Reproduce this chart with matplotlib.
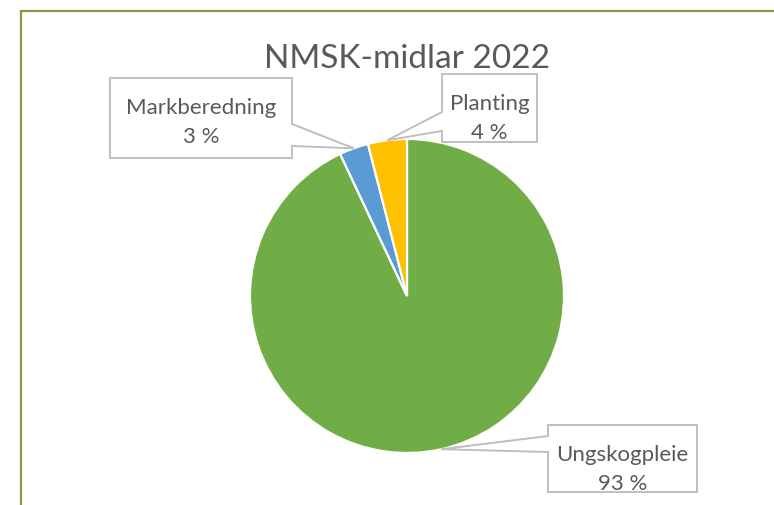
import numpy as np
import matplotlib.pyplot as plt
from matplotlib.patches import Polygon

# ── Data ─────────────────────────────────────────────────────────────
kategoriar = ["Ungskogpleie", "Markberedning", "Planting"]
prosent = [93, 3, 4]
fargar = ["#70AD47", "#5B9BD5", "#FFC000"]
tittel = "NMSK-midlar 2022"

plt.rcParams['font.family'] = ['Lato', 'DejaVu Sans']

W, H = 774, 506
fig = plt.figure(figsize=(W / 100, H / 100), dpi=100)
ax = fig.add_axes([0, 0, 1, 1])

def py(y):
    # pikslar frå toppen -> data-y
    return H - y

# ── Kake ─────────────────────────────────────────────────────────────
cx, cy, r = 407, py(297), 157
wedges, _ = ax.pie(prosent, colors=fargar, startangle=90, counterclock=False,
                   center=(cx, cy), radius=r, frame=True,
                   wedgeprops=dict(edgecolor="white", linewidth=1.6))
ax.set_xlim(0, W)
ax.set_ylim(0, H)
ax.axis("off")

# ── Ramme ────────────────────────────────────────────────────────────
ax.plot([21, 21, W + 5], [py(H + 5), py(12), py(12)], color="#7F9F3F",
        lw=1.6, solid_joinstyle="miter", zorder=1)

ax.text(407, py(68), tittel, ha="center", va="baseline",
        fontsize=24, color="#595959")

# ── Etikettar med peikar ─────────────────────────────────────────────
# boks (x0, y0, x1, y1) i pikslar, side for peikar, peikar y-ar
boksar = {
    "Ungskogpleie": ((548, 426, 697, 493), "left", (437, 453)),
    "Markberedning": ((110, 79, 292, 159), "right", (125, 147)),
    "Planting": ((442, 75, 537, 143), "left", (113, 132)),
}

for w, namn, p in zip(wedges, kategoriar, prosent):
    theta = np.deg2rad((w.theta1 + w.theta2) / 2)
    tx, ty = cx + r * np.cos(theta), cy + r * np.sin(theta)
    (x0, y0, x1, y1), side, (pa, pb) = boksar[namn]
    if side == "right":
        pts = [(x0, y0), (x1, y0), (x1, pa), None, (x1, pb), (x1, y1), (x0, y1)]
    else:
        pts = [(x0, y0), (x1, y0), (x1, y1), (x0, y1), (x0, pb), None, (x0, pa)]
    verts = [(tx, ty) if q is None else (q[0], py(q[1])) for q in pts]
    ax.add_patch(Polygon(verts, closed=True, facecolor="white",
                         edgecolor="#BFBFBF", lw=1.4, zorder=3))
    xm = (x0 + x1) / 2
    ax.text(xm, py(y0 + 35), namn, ha="center", va="baseline",
            fontsize=16, color="#595959", zorder=4)
    ax.text(xm, py(y0 + 64), f"{p} %", ha="center", va="baseline",
            fontsize=16, color="#595959", zorder=4)

fig.savefig("out.png", dpi=100)
